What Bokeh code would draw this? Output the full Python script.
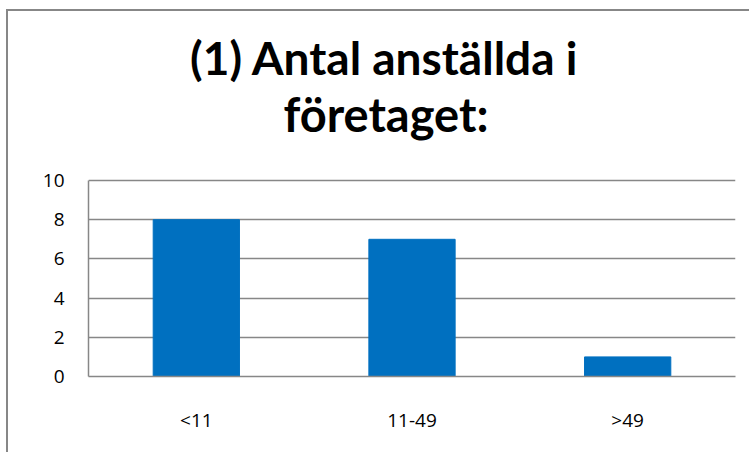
from bokeh.plotting import figure
from bokeh.models import FactorRange, Range1d, FixedTicker
from bokeh.core.properties import value
from bokeh.embed import file_html
from bokeh.resources import INLINE

categories = ["<11", "11-49", ">49"]
counts = [8, 7, 1]
y_ticks = [0, 2, 4, 6, 8, 10]
title_lines = ["(1) Antal anställda i", "företaget:"]

GRAY = "#878787"
BLUE = "#0070C0"

# layout (pixels on the page)
CANVAS_TOP = 11
FRAME_BOTTOM = 376
TOP_TICK_PX = 180
FRAME_LEFT = 88
FRAME_RIGHT = 735
px_per_unit = (FRAME_BOTTOM - TOP_TICK_PX) / y_ticks[-1]
y_end = (FRAME_BOTTOM - CANVAS_TOP) / px_per_unit
title_anchor_px = [57, 113]
title_centers_px = [384, 385.5]
title_sizes = ["46px", "47px"]

def to_y(px):
    return (FRAME_BOTTOM - px) / px_per_unit

def to_x(px):
    return (px - FRAME_LEFT) / (FRAME_RIGHT - FRAME_LEFT) * len(categories)

p = figure(
    width=743, height=443,
    x_range=FactorRange(*categories, range_padding=0),
    y_range=Range1d(0, y_end),
    output_backend="svg", toolbar_location=None,
    min_border_left=80, min_border_right=16, min_border_top=0, min_border_bottom=78,
    styles={"margin-left": "6px", "margin-top": "9px",
            "border-left": f"2px solid {GRAY}", "border-top": f"2px solid {GRAY}"},
)
p.title.visible = False

for line, cx, by, fs in zip(title_lines, title_centers_px, title_anchor_px, title_sizes):
    p.text(x=[to_x(cx)], y=[to_y(by)], text=[line], text_align="center",
           text_baseline="alphabetic", text_font=value("Lato"), text_font_style="bold",
           text_font_size=value(fs), text_color="black")

p.vbar(x=categories, top=counts, width=0.4, color=BLUE, line_color=BLUE)

p.outline_line_color = None
p.xgrid.grid_line_color = None
p.ygrid.grid_line_color = GRAY
p.ygrid.grid_line_width = 1.5
p.yaxis.ticker = FixedTicker(ticks=y_ticks)
p.yaxis.bounds = (y_ticks[0], y_ticks[-1])

for ax in (p.xaxis[0], p.yaxis[0]):
    ax.axis_line_color = GRAY
    ax.axis_line_width = 1.5
    ax.major_tick_line_color = None
    ax.minor_tick_line_color = None
    ax.major_tick_out = 0
    ax.major_tick_in = 0
    ax.major_label_text_font = "Open Sans"
    ax.major_label_text_font_size = "19px"
    ax.major_label_text_color = "black"

p.yaxis.major_label_standoff = 24
p.xaxis.major_label_standoff = 30

open("out.html", "w").write(file_html(p, INLINE))
